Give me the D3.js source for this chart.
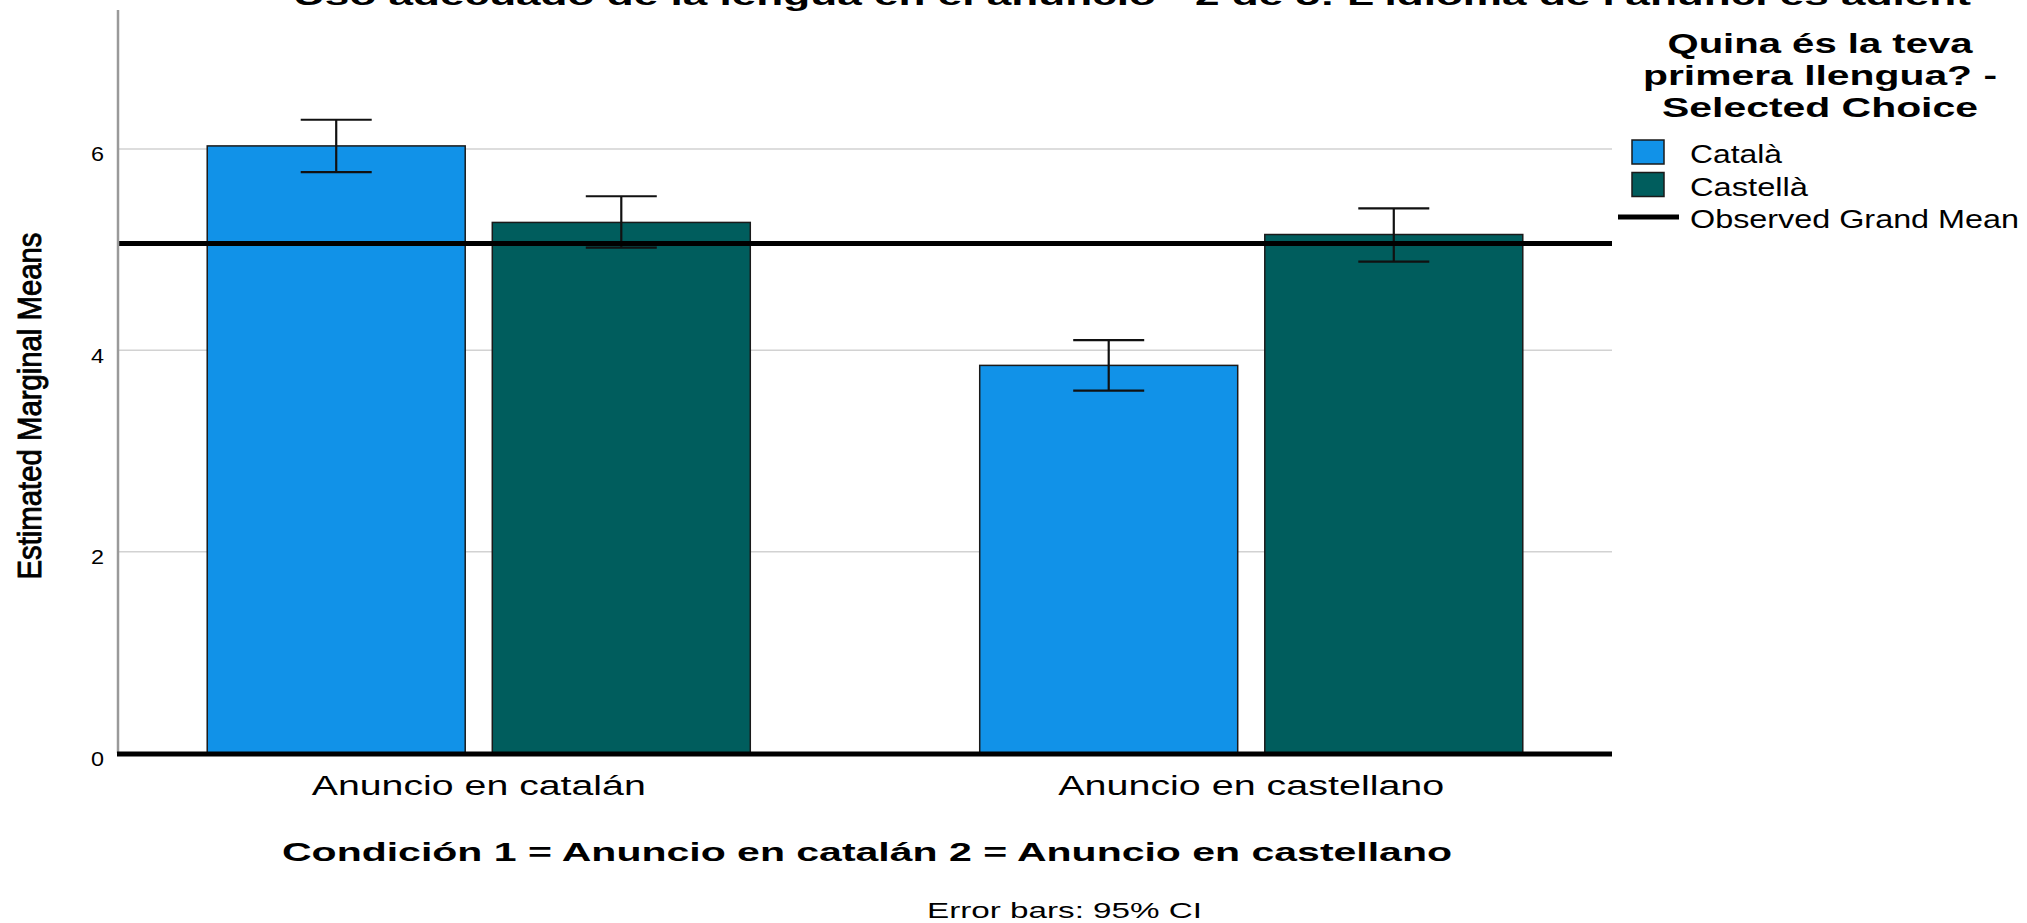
<!DOCTYPE html>
<html>
<head>
<meta charset="utf-8">
<script src="https://cdn.jsdelivr.net/npm/d3@7"></script>
<style>
  html, body { margin: 0; padding: 0; background: #ffffff; }
  svg { display: block; }
  text { font-family: "Liberation Sans", Arial, sans-serif; fill: #000; }
</style>
</head>
<body>
<svg id="chart" width="2027" height="923"></svg>
<script>
// ---- data ----
const categories = ["Anuncio en catalán", "Anuncio en castellano"];
const seriesNames = ["Català", "Castellà"];
const meansCatala = [6.03, 3.85];
const meansCastella = [5.27, 5.15];
const ciLowCatala = [5.77, 3.60];
const ciHighCatala = [6.29, 4.10];
const ciLowCastella = [5.02, 4.88];
const ciHighCastella = [5.53, 5.41];
const grandMean = 5.06;
const yTicks = [0, 2, 4, 6];
const legendTitleLines = ["Quina és la teva", "primera llengua? -", "Selected Choice"];
const legendLineLabel = "Observed Grand Mean";
const chartTitle = "Uso adecuado de la lengua en el anuncio - 2 de 5: L'idioma de l'anunci és adient";
const xTitle = "Condición 1 = Anuncio en catalán 2 = Anuncio en castellano";
const yTitle = "Estimated Marginal Means";
const footnote = "Error bars: 95% CI";

// build table
const rows = [];
categories.forEach((c, i) => {
  rows.push({cat: c, series: seriesNames[0], mean: meansCatala[i], lo: ciLowCatala[i], hi: ciHighCatala[i]});
  rows.push({cat: c, series: seriesNames[1], mean: meansCastella[i], lo: ciLowCastella[i], hi: ciHighCastella[i]});
});

// ---- layout ----
const plotLeft = 118, plotRight = 1612, plotBottom = 753, plotTop = 10;
const colors = d3.scaleOrdinal().domain(seriesNames).range(["#1192e8", "#005d5d"]);

const svg = d3.select("#chart");

const x0 = d3.scaleBand().domain(categories).range([plotLeft, plotRight])
  .paddingInner(0.297).paddingOuter(0.1155);
const x1 = d3.scaleBand().domain(seriesNames).range([0, x0.bandwidth()])
  .paddingInner(0.095).paddingOuter(0);
const y = d3.scaleLinear().domain([0, 7.38]).range([plotBottom, plotTop]);

// title (clipped at top, as in the reference)
svg.append("text")
  .attr("x", 293).attr("y", 5)
  .attr("font-size", 28).attr("font-weight", "bold")
  .attr("textLength", 1678).attr("lengthAdjust", "spacingAndGlyphs")
  .text(chartTitle);

// gridlines
svg.append("g").selectAll("line").data(yTicks.filter(d => d > 0)).join("line")
  .attr("x1", plotLeft).attr("x2", plotRight)
  .attr("y1", d => y(d)).attr("y2", d => y(d))
  .attr("stroke", "#d2d2d2").attr("stroke-width", 1.5);

// bars
const gBars = svg.append("g");
gBars.selectAll("rect").data(rows).join("rect")
  .attr("x", d => x0(d.cat) + x1(d.series))
  .attr("width", x1.bandwidth())
  .attr("y", d => y(d.mean))
  .attr("height", d => y(0) - y(d.mean))
  .attr("fill", d => colors(d.series))
  .attr("stroke", "#1a1a1a").attr("stroke-width", 1.5);

// error bars
const capHalf = 35.5;
const gErr = svg.append("g").attr("stroke", "#111").attr("stroke-width", 2.2);
rows.forEach(d => {
  const cx = x0(d.cat) + x1(d.series) + x1.bandwidth() / 2;
  gErr.append("line").attr("x1", cx).attr("x2", cx).attr("y1", y(d.hi)).attr("y2", y(d.lo));
  gErr.append("line").attr("x1", cx - capHalf).attr("x2", cx + capHalf).attr("y1", y(d.hi)).attr("y2", y(d.hi));
  gErr.append("line").attr("x1", cx - capHalf).attr("x2", cx + capHalf).attr("y1", y(d.lo)).attr("y2", y(d.lo));
});

// grand mean line
svg.append("line")
  .attr("x1", plotLeft).attr("x2", plotRight)
  .attr("y1", y(grandMean)).attr("y2", y(grandMean))
  .attr("stroke", "#000").attr("stroke-width", 5);

// y axis line
svg.append("line")
  .attr("x1", plotLeft).attr("x2", plotLeft)
  .attr("y1", plotTop).attr("y2", plotBottom)
  .attr("stroke", "#9a9a9a").attr("stroke-width", 2.5);

// baseline
svg.append("line")
  .attr("x1", plotLeft - 1).attr("x2", plotRight)
  .attr("y1", y(0) + 1).attr("y2", y(0) + 1)
  .attr("stroke", "#000").attr("stroke-width", 5);

// y axis ticks
const yAxis = svg.append("g").attr("transform", `translate(${plotLeft},0)`)
  .call(d3.axisLeft(y).tickValues(yTicks).tickSize(0).tickPadding(14).tickFormat(d3.format("d")));
yAxis.select(".domain").remove();
yAxis.selectAll("text")
  .attr("font-size", 20).attr("dy", "0.6em").attr("fill", "#111")
  .attr("font-family", "Liberation Sans, Arial, sans-serif")
  .attr("textLength", 13).attr("lengthAdjust", "spacingAndGlyphs");

// x axis labels
const xLabelLen = {"Anuncio en catalán": 334, "Anuncio en castellano": 386};
const xAxis = svg.append("g").attr("transform", `translate(0,${plotBottom})`)
  .call(d3.axisBottom(x0).tickSize(0).tickPadding(0));
xAxis.select(".domain").remove();
xAxis.selectAll("text")
  .attr("y", 42).attr("dy", 0)
  .attr("font-size", 27).attr("fill", "#111")
  .attr("font-family", "Liberation Sans, Arial, sans-serif")
  .attr("textLength", d => xLabelLen[d]).attr("lengthAdjust", "spacingAndGlyphs");

// x title
svg.append("text")
  .attr("x", (plotLeft + plotRight) / 2 + 2).attr("y", 861)
  .attr("text-anchor", "middle")
  .attr("font-size", 25).attr("font-weight", "bold")
  .attr("textLength", 1170).attr("lengthAdjust", "spacingAndGlyphs")
  .text(xTitle);

// y title (condensed, heavy)
svg.append("text")
  .attr("transform", "translate(41,406) rotate(-90)")
  .attr("text-anchor", "middle")
  .attr("font-size", 34)
  .attr("stroke", "#000").attr("stroke-width", 0.9)
  .attr("textLength", 347).attr("lengthAdjust", "spacingAndGlyphs")
  .text(yTitle);

// footnote
svg.append("text")
  .attr("x", 927).attr("y", 918)
  .attr("font-size", 22).attr("fill", "#222")
  .attr("textLength", 275).attr("lengthAdjust", "spacingAndGlyphs")
  .text(footnote);

// legend
const legend = svg.append("g");
const ltLens = [305, 354, 316];
legendTitleLines.forEach((t, i) => {
  legend.append("text")
    .attr("x", 1820).attr("y", 53 + i * 32)
    .attr("text-anchor", "middle")
    .attr("font-size", 28).attr("font-weight", "bold")
    .attr("textLength", ltLens[i]).attr("lengthAdjust", "spacingAndGlyphs")
    .text(t);
});
const itemLens = [92, 118];
seriesNames.forEach((s, i) => {
  legend.append("rect")
    .attr("x", 1632).attr("y", 140 + i * 32.5)
    .attr("width", 32).attr("height", 24)
    .attr("fill", colors(s)).attr("stroke", "#1a1a1a").attr("stroke-width", 1.5);
  legend.append("text")
    .attr("x", 1690).attr("y", 163 + i * 32.5)
    .attr("font-size", 26).attr("fill", "#111")
    .attr("textLength", itemLens[i]).attr("lengthAdjust", "spacingAndGlyphs")
    .text(s);
});
legend.append("line")
  .attr("x1", 1618).attr("x2", 1679).attr("y1", 217).attr("y2", 217)
  .attr("stroke", "#000").attr("stroke-width", 5);
legend.append("text")
  .attr("x", 1690).attr("y", 228)
  .attr("font-size", 26).attr("fill", "#111")
  .attr("textLength", 329).attr("lengthAdjust", "spacingAndGlyphs")
  .text(legendLineLabel);
</script>
</body>
</html>
